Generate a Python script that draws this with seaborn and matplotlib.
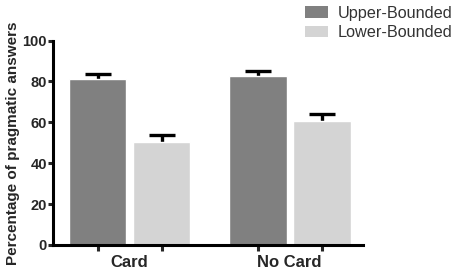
import numpy as np
import pandas as pd
import matplotlib
matplotlib.use("Agg")
import matplotlib.pyplot as plt
import seaborn as sns
from matplotlib.patches import Patch

# Data
conditions = ["Card", "No Card"]
types = ["Upper-Bounded", "Lower-Bounded"]
upper_means = [81.2, 82.5]
lower_means = [50.3, 60.6]
upper_err = [2.6, 2.5]
lower_err = [3.6, 3.6]

palette = {"Upper-Bounded": "#808080", "Lower-Bounded": "#d4d4d4"}

df = pd.DataFrame({
    "condition": conditions * 2,
    "type": [types[0]] * 2 + [types[1]] * 2,
    "pct": upper_means + lower_means,
    "err": upper_err + lower_err,
})

sns.set_style("white")
plt.rcParams["font.family"] = ["Liberation Sans", "DejaVu Sans"]

fig = plt.figure(figsize=(4.54, 2.74), dpi=100)
ax = fig.add_axes([0.117, 0.106, 0.683, 0.746])

sns.barplot(data=df, x="condition", y="pct", hue="type", palette=palette,
            hue_order=types, order=conditions, errorbar=None, width=0.8,
            gap=0.1, saturation=1, ax=ax, legend=False)

# error bars sit behind the bars, so only the upper half shows
centers = []
for patch, (_, row) in zip(ax.patches, df.iterrows()):
    patch.set_zorder(2.0)
    cx = patch.get_x() + patch.get_width() / 2
    centers.append(cx)
    ax.errorbar(cx, row["pct"], yerr=row["err"], fmt="none",
                ecolor="black", elinewidth=2.4, capsize=9.5, capthick=2.4,
                zorder=1.9)

ax.set_xlim(-0.478, 1.459)
ax.set_ylim(0, 100)
ax.set_yticks([0, 20, 40, 60, 80, 100])
ax.set_yticklabels(["0", "20", "40", "60", "80", "100"], fontsize=10.5,
                   fontweight="bold")
ax.set_xticks(centers)
ax.set_xticklabels([""] * len(centers))
ax.set_xticks([0, 1], minor=True)
ax.set_xticklabels(conditions, minor=True, fontsize=12, fontweight="bold")
ax.tick_params(axis="x", which="major", direction="out", length=4.5, width=2.2,
               bottom=True)
ax.tick_params(axis="x", which="minor", length=0, pad=7)
ax.tick_params(axis="y", direction="out", length=3.5, width=2.2, pad=1,
               left=True)
ax.set_xlabel("")
ax.set_ylabel("Percentage of pragmatic answers", fontsize=11,
              fontweight="bold", labelpad=2)

for side in ["top", "right"]:
    ax.spines[side].set_visible(False)
for side in ["left", "bottom"]:
    ax.spines[side].set_linewidth(2.2)
    ax.spines[side].set_color("black")
    ax.spines[side].set_zorder(3)

handles = [Patch(facecolor=palette[t], edgecolor="none", label=t) for t in types]
leg = fig.legend(handles=handles, loc="upper left", bbox_to_anchor=(0.672, 0.978),
                 frameon=False, fontsize=11.7, borderpad=0, borderaxespad=0,
                 handlelength=1.42, handleheight=0.74,
                 handletextpad=0.6, labelspacing=0.25)
for txt in leg.get_texts():
    txt.set_color("#333333")

fig.savefig("out.png", dpi=100)
